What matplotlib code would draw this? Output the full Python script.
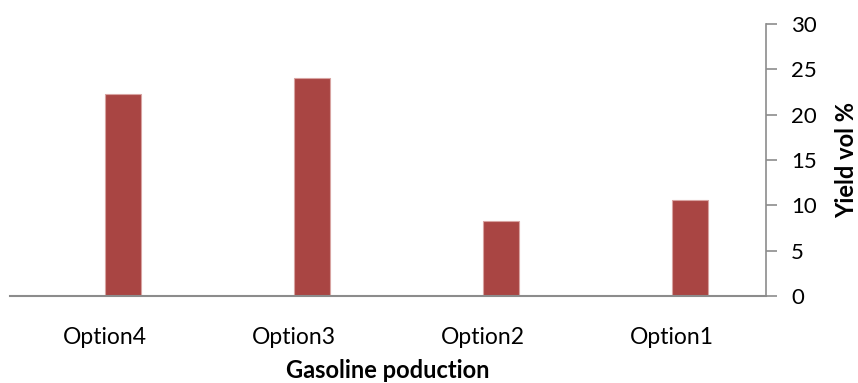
import matplotlib.pyplot as plt
import numpy as np

plt.rcParams['font.family'] = ['Lato', 'DejaVu Sans']

categories = ['Option4', 'Option3', 'Option2', 'Option1']
yield_vol = [22.3, 24.0, 8.3, 10.6]
y_ticks = [0, 5, 10, 15, 20, 25, 30]

fig = plt.figure(figsize=(8.58, 3.83), dpi=100)
ax = fig.add_axes([10 / 858, (383 - 296) / 383, 756 / 858, 272 / 383])

x = np.arange(len(categories))
bar_w = 0.194
ax.bar(x + bar_w / 2, yield_vol, width=bar_w, color='#A94543',
       edgecolor='#D8A3A1', linewidth=0.8, zorder=2)

ax.set_xlim(-0.5, len(categories) - 0.5)
ax.set_ylim(0, 30)
ax.set_yticks(y_ticks)
ax.yaxis.tick_right()
ax.yaxis.set_label_position('right')
ax.tick_params(axis='y', direction='out', length=8, width=1.2, color='#8C8C8C',
               labelsize=16, pad=10)
ax.set_xticks(x)
ax.set_xticklabels(categories)
ax.tick_params(axis='x', length=0, labelsize=16.5, pad=22)

for side in ['top', 'left']:
    ax.spines[side].set_visible(False)
ax.spines['bottom'].set_color('#8C8C8C')
ax.spines['bottom'].set_linewidth(1.5)
ax.spines['right'].set_color('#8C8C8C')
ax.spines['right'].set_linewidth(1.2)

ax.set_ylabel('Yield vol %', fontsize=17, fontweight='bold', labelpad=13)
ax.set_xlabel('Gasoline poduction', fontsize=17, fontweight='bold', labelpad=8.5)

fig.savefig('out.png', dpi=100)
